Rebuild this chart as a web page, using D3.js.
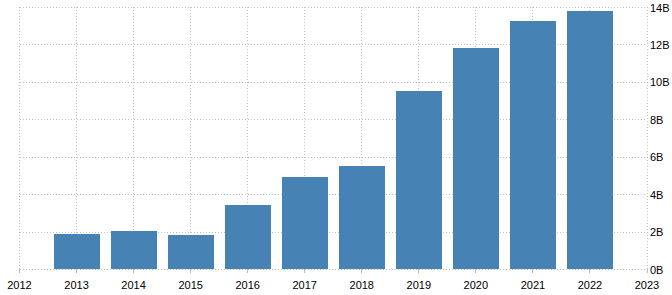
<!DOCTYPE html>
<html><head><meta charset="utf-8">
<script src="https://cdn.jsdelivr.net/npm/d3@7"></script>
<style>body{margin:0;background:#fff}svg{display:block}</style>
</head><body><svg id="c" width="672" height="295"></svg>
<script>
const years = [2013, 2014, 2015, 2016, 2017, 2018, 2019, 2020, 2021, 2022];
const values = [1.87, 2.03, 1.82, 3.42, 4.92, 5.5, 9.51, 11.81, 13.25, 13.79];
const xTicks = [2012, 2013, 2014, 2015, 2016, 2017, 2018, 2019, 2020, 2021, 2022, 2023];
const yTicks = [0, 2, 4, 6, 8, 10, 12, 14];

const svg = d3.select('#c');
const x = d3.scaleLinear().domain([2012, 2023]).range([19.5, 647]);
const y = d3.scaleLinear().domain([0, 14]).range([269, 7]);
const bw = 46;
const grid = '#c2c2c2';

const g = svg.append('g').attr('shape-rendering', 'crispEdges');
// horizontal grid
g.selectAll('.hg').data(yTicks).enter().append('line')
  .attr('x1', x(2012)).attr('x2', x(2023))
  .attr('y1', d => Math.round(y(d)) + 0.5).attr('y2', d => Math.round(y(d)) + 0.5)
  .attr('stroke', grid).attr('stroke-dasharray', '1,2');
// vertical grid
g.selectAll('.vg').data(xTicks).enter().append('line')
  .attr('x1', d => Math.floor(x(d)) + 0.5).attr('x2', d => Math.floor(x(d)) + 0.5)
  .attr('y1', y(14)).attr('y2', y(0))
  .attr('stroke', grid).attr('stroke-dasharray', '1,2');
// tick marks
g.selectAll('.tk').data(xTicks).enter().append('line')
  .attr('x1', d => Math.floor(x(d)) + 0.5).attr('x2', d => Math.floor(x(d)) + 0.5)
  .attr('y1', y(0)).attr('y2', y(0) + 4)
  .attr('stroke', '#bbb');

// bars
svg.selectAll('.bar').data(years).enter().append('rect')
  .attr('x', d => Math.round(x(d) - bw / 2))
  .attr('width', bw)
  .attr('y', (d, i) => Math.round(y(values[i])))
  .attr('height', (d, i) => Math.round(y(0)) - Math.round(y(values[i])))
  .attr('fill', '#4682b4');

const font = '"Liberation Sans", Arial, sans-serif';
// x labels
svg.selectAll('.xl').data(xTicks).enter().append('text')
  .attr('x', d => x(d)).attr('y', 289)
  .attr('text-anchor', 'middle')
  .attr('font-family', font).attr('font-size', 11).attr('fill', '#000')
  .text(d => d);
// y labels
svg.selectAll('.yl').data(yTicks).enter().append('text')
  .attr('x', 650).attr('y', d => y(d) + 4.5)
  .attr('font-family', font).attr('font-size', 11).attr('fill', '#000')
  .text(d => d + 'B');
</script></body></html>
